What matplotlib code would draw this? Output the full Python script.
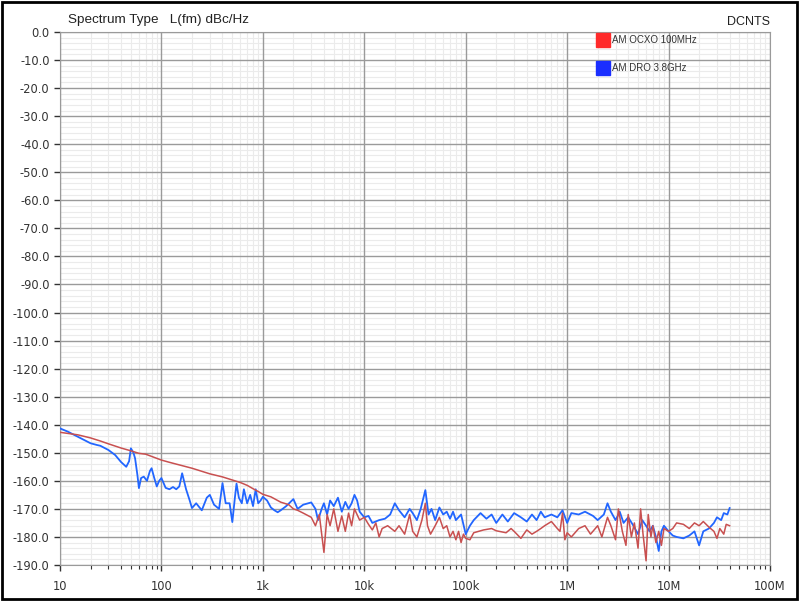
import numpy as np
import matplotlib
matplotlib.use("Agg")
import matplotlib.pyplot as plt
from matplotlib.ticker import FixedLocator, NullFormatter
from matplotlib.patches import Rectangle

plt.rcParams["font.family"] = ["Liberation Sans", "DejaVu Sans"]

# AM OCXO 100MHz, L(fm) in dBc/Hz
ocxo_f = [10, 13, 15, 20, 25, 30, 40, 50, 60, 70, 80, 100, 120, 150, 200, 250, 300,
          400, 500, 600, 700, 800, 900, 1e3, 1.2e3, 1.5e3, 1.8e3, 2e3, 2.2e3, 2.5e3,
          3e3, 3.3e3, 3.6e3, 4e3, 4.3e3, 4.6e3, 5e3, 5.5e3, 6e3, 6.5e3, 7e3, 7.5e3,
          8e3, 9e3, 10e3, 11e3, 12e3, 13e3, 14e3, 15e3, 17e3, 20e3, 22e3, 25e3, 28e3,
          30e3, 33e3, 37e3, 40e3, 42e3, 45e3, 50e3, 55e3, 60e3, 65e3, 70e3, 75e3,
          80e3, 85e3, 90e3, 95e3, 100e3, 110e3, 120e3, 150e3, 180e3, 200e3, 250e3,
          280e3, 300e3, 350e3, 400e3, 450e3, 500e3, 550e3, 600e3, 700e3, 800e3,
          850e3, 900e3, 950e3, 1.0e6, 1.1e6, 1.3e6, 1.5e6, 1.7e6, 2.0e6, 2.2e6,
          2.5e6, 2.7e6, 3.0e6, 3.2e6, 3.5e6, 3.8e6, 4.0e6, 4.3e6, 4.6e6, 5.0e6,
          5.3e6, 5.6e6, 6.0e6, 6.3e6, 6.7e6, 7.0e6, 7.5e6, 8.0e6, 8.5e6, 9.0e6,
          10e6, 11e6, 12e6, 14e6, 16e6, 18e6, 20e6, 22e6, 25e6, 28e6, 30e6, 32e6,
          35e6, 37e6, 40e6]
ocxo_db = [-142.7, -143.3, -143.6, -144.7, -145.8, -146.8, -148.3, -149.3, -150.2,
           -150.5, -151.3, -152.6, -153.4, -154.3, -155.5, -156.6, -157.5, -158.6,
           -159.7, -160.6, -161.6, -162.8, -163.8, -164.8, -165.7, -167.6, -168.5,
           -170.0, -170.5, -171.5, -173.0, -176.0, -172.0, -185.5, -172.0, -176.0,
           -170.0, -178.0, -172.5, -178.0, -171.5, -176.0, -170.0, -174.0, -173.0,
           -175.5, -177.5, -175.0, -180.0, -177.0, -176.0, -178.0, -176.0, -179.0,
           -172.0, -178.0, -180.0, -174.0, -168.0, -176.0, -179.0, -176.0, -173.0,
           -177.0, -176.0, -180.0, -178.0, -181.0, -178.0, -182.0, -179.0, -180.5,
           -181.0, -178.5, -177.5, -177.0, -177.8, -178.5, -177.0, -178.0, -180.5,
           -177.5, -179.0, -178.0, -177.0, -176.0, -174.5, -177.0, -178.0, -171.5,
           -181.0, -178.5, -180.0, -177.0, -176.0, -179.0, -176.0, -180.0, -173.0,
           -176.0, -181.0, -170.0, -178.0, -183.0, -172.0, -180.0, -175.0, -184.0,
           -170.0, -179.0, -188.5, -172.0, -180.0, -176.0, -182.0, -178.0, -183.0,
           -177.0, -178.0, -177.0, -175.0, -175.5, -177.0, -175.0, -176.0, -174.5,
           -176.5, -178.0, -180.5, -177.0, -179.0, -175.5, -176.0]

# AM DRO 3.8GHz
dro_f = [10, 12, 15, 18, 20, 23, 25, 30, 35, 40, 45, 48, 50, 53, 55, 58, 60, 63, 67,
         72, 77, 80, 85, 90, 95, 100, 110, 120, 130, 140, 150, 160, 175, 190, 200,
         220, 250, 280, 300, 330, 370, 400, 430, 470, 500, 530, 550, 580, 620, 650,
         700, 750, 800, 850, 900, 950, 1e3, 1.1e3, 1.2e3, 1.3e3, 1.4e3, 1.5e3, 1.7e3,
         2e3, 2.2e3, 2.5e3, 3e3, 3.3e3, 3.5e3, 3.8e3, 4e3, 4.3e3, 4.6e3, 5e3, 5.5e3,
         6e3, 6.5e3, 7e3, 7.5e3, 8e3, 8.5e3, 9e3, 10e3, 11e3, 12e3, 14e3, 16e3, 18e3,
         20e3, 22e3, 25e3, 28e3, 30e3, 33e3, 36e3, 40e3, 43e3, 46e3, 50e3, 55e3,
         60e3, 65e3, 70e3, 75e3, 80e3, 90e3, 100e3, 110e3, 120e3, 140e3, 160e3,
         180e3, 200e3, 230e3, 260e3, 300e3, 350e3, 400e3, 450e3, 500e3, 550e3,
         600e3, 700e3, 800e3, 900e3, 1.0e6, 1.1e6, 1.3e6, 1.5e6, 1.8e6, 2.0e6,
         2.3e6, 2.5e6, 2.7e6, 3.0e6, 3.3e6, 3.6e6, 4.0e6, 4.5e6, 5.0e6, 5.5e6,
         6.0e6, 6.5e6, 7.0e6, 7.5e6, 8.0e6, 8.5e6, 9.0e6, 10e6, 11e6, 12e6, 14e6,
         16e6, 18e6, 20e6, 22e6, 25e6, 28e6, 30e6, 33e6, 35e6, 38e6, 40e6]
dro_db = [-141.3, -142.5, -144.3, -145.8, -146.6, -147.2, -147.5, -149.0, -150.8,
          -153.3, -155.0, -153.0, -148.4, -150.0, -152.0, -158.0, -162.6, -159.0,
          -158.5, -160.0, -156.5, -155.5, -159.0, -162.0, -160.0, -159.0, -162.5,
          -163.0, -162.2, -163.0, -162.0, -157.3, -163.0, -167.0, -169.7, -168.0,
          -170.5, -166.0, -165.0, -168.5, -170.0, -160.8, -168.0, -168.0, -174.7,
          -166.0, -161.0, -166.0, -168.0, -163.0, -168.0, -165.0, -169.0, -163.0,
          -168.0, -167.0, -165.7, -167.0, -169.5, -170.5, -171.2, -170.5, -169.0,
          -166.5, -170.0, -168.5, -167.7, -170.0, -174.0, -170.0, -168.0, -172.0,
          -167.0, -169.0, -166.0, -171.0, -167.5, -170.0, -168.0, -165.0, -167.0,
          -171.0, -173.0, -172.5, -175.0, -174.0, -173.5, -172.0, -168.0, -170.5,
          -173.0, -170.0, -171.5, -174.0, -170.0, -163.3, -172.0, -170.0, -174.0,
          -169.5, -172.0, -171.0, -173.5, -171.0, -174.0, -172.0, -179.0, -176.0,
          -174.0, -171.5, -173.5, -172.0, -175.0, -172.0, -174.5, -171.5, -173.0,
          -174.5, -172.0, -174.0, -171.0, -173.0, -172.0, -173.0, -170.5, -175.0,
          -171.5, -172.0, -171.0, -172.5, -174.0, -172.0, -168.0, -171.0, -174.0,
          -171.0, -175.0, -173.0, -176.0, -179.0, -174.0, -176.0, -178.0, -176.0,
          -180.0, -185.0, -178.0, -176.0, -178.0, -179.5, -180.0, -180.5, -179.5,
          -178.0, -183.0, -178.0, -177.0, -175.0, -173.0, -174.0, -171.5, -172.0,
          -169.7]

major_x = [10, 100, 1e3, 1e4, 1e5, 1e6, 1e7, 1e8]
major_x_labels = ["10", "100", "1k", "10k", "100k", "1M", "10M", "100M"]
y_ticks = list(range(0, -200, -10))
y_labels = ["%.1f" % v for v in y_ticks]

fig = plt.figure(figsize=(7.99, 6.01), dpi=100)
ax = fig.add_axes([60 / 799, 1 - 565 / 601, 710 / 799, 533 / 601])

ax.plot(dro_f, dro_db, color="#2266ff", lw=1.3, zorder=3)
ax.plot(ocxo_f, ocxo_db, color="#c85050", lw=1.1, zorder=4)

ax.set_xscale("log")
ax.set_xlim(10, 1e8)
ax.set_ylim(-190, 0)

minor_x = [m * 10 ** d for d in range(1, 8) for m in range(2, 10)]
ax.set_xticks(major_x, major_x_labels)
ax.xaxis.set_minor_locator(FixedLocator(minor_x))
ax.xaxis.set_minor_formatter(NullFormatter())
ax.set_yticks(y_ticks, y_labels)
ax.yaxis.set_minor_locator(FixedLocator(list(range(0, -191, -2))))

# light minor grid, darker major lines drawn on top of it
ax.grid(which="minor", color="#ebebeb", lw=0.8)
ax.set_axisbelow(True)
for v in major_x:
    ax.axvline(v, color="#9a9a9a", lw=1.0, zorder=1)
for v in y_ticks:
    ax.axhline(v, color="#9a9a9a", lw=1.0, zorder=1)

ax.tick_params(axis="both", which="major", colors="#333333", labelcolor="#333333",
               labelsize=8.3, length=4, width=1)
ax.tick_params(axis="x", which="minor", colors="#333333", length=3, width=0.8)
ax.tick_params(axis="y", which="minor", length=0)
ax.tick_params(axis="x", pad=7)
for lab in ax.get_xticklabels() + ax.get_yticklabels():
    lab.set_family("DejaVu Sans")
for s in ax.spines.values():
    s.set_color("#9a9a9a")

fig.text(68 / 799, 1 - 20 / 601, "Spectrum Type   L(fm) dBc/Hz", fontsize=9.7,
         color="#222222", va="center", ha="left")
fig.text(770 / 799, 1 - 22 / 601, "DCNTS", fontsize=9, color="#222222",
         va="center", ha="right")

# legend swatches
for yy, col, lab in [(40, "#ff2a2a", "AM OCXO 100MHz"), (68, "#1a2eff", "AM DRO 3.8GHz")]:
    fig.patches.append(Rectangle((596 / 799, 1 - (yy + 7) / 601), 14 / 799, 14 / 601,
                                 transform=fig.transFigure, color=col, zorder=5))
    fig.text(612 / 799, 1 - yy / 601, lab, fontsize=7, color="#333333",
             va="center", ha="left")

fig.patches.append(Rectangle((0.003, 0.003), 0.994, 0.994, transform=fig.transFigure,
                             fill=False, ec="black", lw=2))

fig.savefig("out.png", dpi=100)
